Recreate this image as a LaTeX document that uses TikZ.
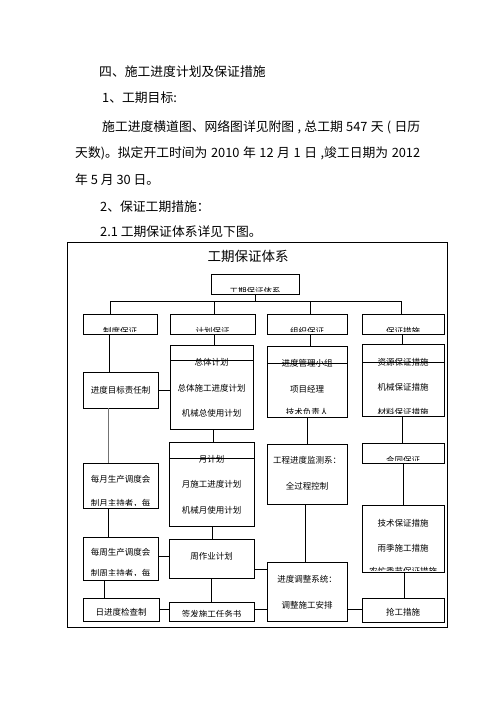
\documentclass[tikz,border=0pt]{standalone}
\usepackage{fontspec}
\setmainfont{Noto Sans CJK SC}
\newcommand\bx[5]{\pgfmathsetmacro\mybw{#4-#2}\pgfmathsetmacro\mybh{#5-#3}%
  \node[bx, minimum width=\mybw pt, minimum height=\mybh pt] (#1) at ({(#2+#4)/2},{(#3+#5)/2}) {};}
\newcommand\tx[4]{\node[bt] (#1) at (#2,#3) {#4};}
\newcommand\ctx[6]{\begin{scope}\path (0,#5) coordinate (cl);
  \clip (#2.north west) rectangle (#2.east |- cl);
  \node[bt] (#1) at (#3,#4) {#6};\end{scope}}
\newcommand\vl[3]{\path (#3,0) coordinate (vv); \draw[ln] (#1.south -| vv) -- (#2.north -| vv);}
\newcommand\hl[3]{\path (0,#3) coordinate (hh); \draw[ln] (#1.east |- hh) -- (#2.west |- hh);}
\newcommand\il[2]{\path (0,#2) coordinate (ii); \draw[ln] (#1.west |- ii) -- (#1.east |- ii);}
\begin{document}
\begin{tikzpicture}[x=1pt,y=-1pt,
  bx/.style={draw=black, line width=0.9pt, inner sep=0pt, outer sep=0pt, rectangle},
  bt/.style={inner sep=0pt, font=\fontsize{8.5}{10}\selectfont},
  body/.style={inner sep=0pt, anchor=west, font=\fontsize{12.8}{15}\selectfont},
  ln/.style={line width=0.9pt},
  lng/.style={line width=0.9pt, draw=black!55}]
\useasboundingbox (0,0) rectangle (496,702);
\fill[white] (0,0) rectangle (496,702);
% body text
\node[body] (p1) at (99,72) {四、施工进度计划及保证措施};
\node[body] (p2) at (102,98) {1、工期目标:};
\node[body] (p3) at (102,127) {\makebox[318pt][s]{施工进度横道图、网络图详见附图 , 总工期 547 天 ( 日历}};
\node[body] (p4) at (75,153) {\makebox[345pt][s]{天数)。拟定开工时间为 2010 年 12 月 1 日 ,竣工日期为 2012}};
\node[body] (p5) at (75,180) {年 5 月 30 日。};
\node[body] (p6) at (100,207) {2、保证工期措施：};
\node[body] (p7) at (100,232) {2.1 工期保证体系详见下图。};
% frame and title
\bx{frame}{67}{242}{447}{627}
\node[inner sep=0pt, font=\fontsize{13.5}{16}\selectfont] (title) at (248,256) {工期保证体系};
% boxes
\bx{top}{211}{274}{299}{294}
\bx{a2}{83}{314}{157}{334}
\bx{b2}{170}{314}{255}{334}
\bx{c2}{267}{314}{347}{334}
\bx{d2}{362}{314}{444}{334}
\bx{a3}{83}{372}{158}{408}
\bx{b3}{170}{345}{253}{429}
\bx{c3}{267}{346}{347}{417}
\bx{d3}{362}{344}{444}{416}
\bx{a4}{83}{463}{158}{508}
\bx{b4}{169}{442}{254}{526}
\bx{c4}{267}{444}{347}{504}
\bx{d4}{362}{443}{444}{463}
\bx{a5}{83}{537}{158}{580}
\bx{b5}{169}{539}{254}{578}
\bx{c5}{267}{562}{347}{621}
\bx{d5}{362}{505}{444}{572}
\bx{a6}{83}{598}{159}{621}
\bx{b6}{169}{602}{254}{621}
\bx{d6}{362}{598}{444}{622}
% internal lines
\il{b3}{360}
\il{c3}{363}
\il{d3}{362}
\il{b4}{458}
% texts
\ctx{t0}{top}{255}{290.8}{291}{工期保证体系}
\ctx{ta2}{a2}{120}{330.8}{331}{制度保证}
\ctx{tb2}{b2}{212.5}{330.8}{331}{计划保证}
\ctx{tc2}{c2}{307}{330.8}{331}{组织保证}
\ctx{td2}{d2}{403}{330.8}{331}{保证措施}
\tx{ta3}{120.5}{390}{进度目标责任制}
\tx{tb31}{211.5}{362}{总体计划}
\tx{tb32}{211.5}{388}{总体施工进度计划}
\tx{tb33}{211.5}{413}{机械总使用计划}
\tx{tc31}{307}{363}{进度管理小组}
\tx{tc32}{307}{389}{项目经理}
\ctx{tc33}{c3}{307}{411.8}{413}{技术负责人}
\tx{td31}{403}{362}{资源保证措施}
\tx{td32}{403}{387}{机械保证措施}
\ctx{td33}{d3}{403}{411.8}{413}{材料保证措施}
\tx{ta41}{120.5}{479}{每月生产调度会}
\ctx{ta42}{a4}{120.5}{503.8}{505}{制月主持者，每}
\tx{tb41}{211.5}{459}{月计划}
\tx{tb42}{211.5}{484}{月施工进度计划}
\tx{tb43}{211.5}{510}{机械月使用计划}
\tx{tc41}{307}{460}{工程进度监测系：}
\tx{tc42}{307}{486}{全过程控制}
\ctx{td4}{d4}{403}{459.8}{460.3}{合同保证}
\tx{ta51}{120.5}{552}{每周生产调度会}
\ctx{ta52}{a5}{120.5}{573.8}{575.5}{制周主持者，每}
\tx{tb5}{211.5}{556}{周作业计划}
\tx{tc51}{307}{579}{进度调整系统：}
\tx{tc52}{307}{605}{调整施工安排}
\tx{td51}{403}{523}{技术保证措施}
\tx{td52}{403}{548}{雨季施工措施}
\ctx{td53}{d5}{403}{570.8}{570.5}{农忙季节保证措施}
\tx{ta6}{121}{612}{日进度检查制}
\ctx{tb6}{b6}{211.5}{613.8}{616.5}{签发施工任务书}
\tx{td6}{403}{612}{抢工措施}
% spine
\coordinate (j0) at (255,301);
\coordinate (ja) at (110,301);
\coordinate (jb) at (214,301);
\coordinate (jc) at (310,301);
\coordinate (jd) at (401,301);
\draw[ln] (top.south) -- (j0);
\draw[ln] (ja) -- (jd);
\draw[ln] (ja) -- (a2.north -| ja);
\draw[ln] (jb) -- (b2.north -| jb);
\draw[ln] (jc) -- (c2.north -| jc);
\draw[ln] (jd) -- (d2.north -| jd);
% verticals
\vl{a2}{a3}{109}
\vl{b2}{b3}{214}
\vl{c2}{c3}{310}
\vl{d2}{d3}{402}
\path (108,0) coordinate (vg); \draw[lng] (a3.south -| vg) -- (a4.north -| vg);
\vl{b3}{b4}{213}
\vl{c3}{c4}{307}
\vl{d3}{d4}{402}
\vl{a4}{a5}{108}
\vl{b4}{b5}{212}
\vl{c4}{c5}{305}
\vl{d4}{d5}{403}
\vl{a5}{a6}{104}
\vl{b5}{b6}{211}
\vl{d5}{d6}{404}
% horizontals
\hl{a3}{b3}{390}
\hl{a5}{b5}{556}
\hl{b5}{c5}{569}
\hl{a6}{b6}{609}
\hl{b6}{c5}{609}
\hl{c5}{d6}{609}
\end{tikzpicture}
\end{document}
